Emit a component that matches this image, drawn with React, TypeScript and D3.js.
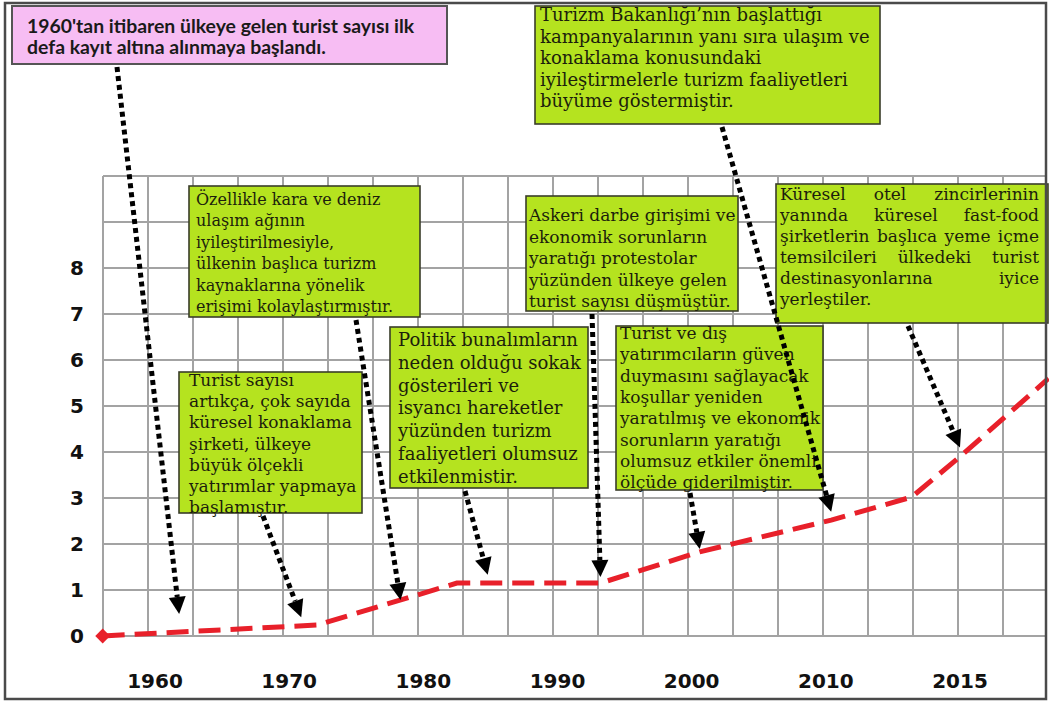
import * as d3 from 'd3'

// x axis labels (years) and y axis labels (million tourists)
const yearTicks = [1960, 1970, 1980, 1990, 2000, 2010, 2015]
const valueTicks = [0, 1, 2, 3, 4, 5, 6, 7, 8]

// the red dashed curve
const lineYears = [1956.1, 1972.1, 1982.5, 1993.2, 2000.6, 2010.2, 2013.2, 2015, 2018.3]
const lineValues = [0, 0.24, 1.15, 1.15, 1.83, 2.52, 3.02, 3.9, 5.6]

// annotation texts, one array of lines per box
const noteLines: string[][] = [
  ["1960'tan itibaren ülkeye gelen turist sayısı ilk", 'defa kayıt altına alınmaya başlandı.'],
  [
    'Turizm Bakanlığı’nın başlattığı',
    'kampanyalarının yanı sıra ulaşım ve',
    'konaklama konusundaki',
    'iyileştirmelerle turizm faaliyetleri',
    'büyüme göstermiştir.',
  ],
  [
    'Özellikle kara ve deniz',
    'ulaşım ağının',
    'iyileştirilmesiyle,',
    'ülkenin başlıca turizm',
    'kaynaklarına yönelik',
    'erişimi kolaylaştırmıştır.',
  ],
  [
    'Askeri darbe girişimi ve',
    'ekonomik sorunların',
    'yaratığı protestolar',
    'yüzünden ülkeye gelen',
    'turist sayısı düşmüştür.',
  ],
  [
    'Küresel otel zincirlerinin',
    'yanında küresel fast-food',
    'şirketlerin başlıca yeme içme',
    'temsilcileri ülkedeki turist',
    'destinasyonlarına iyice',
    'yerleştiler.',
  ],
  [
    'Politik bunalımların',
    'neden olduğu sokak',
    'gösterileri ve',
    'isyancı hareketler',
    'yüzünden turizm',
    'faaliyetleri olumsuz',
    'etkilenmistir.',
  ],
  [
    'Turist sayısı',
    'artıkça, çok sayıda',
    'küresel konaklama',
    'şirketi, ülkeye',
    'büyük ölçekli',
    'yatırımlar yapmaya',
    'başlamıştır.',
  ],
  [
    'Turist ve dış',
    'yatırımcıların güven',
    'duymasını sağlayacak',
    'koşullar yeniden',
    'yaratılmış ve ekonomik',
    'sorunların yaratığı',
    'olumsuz etkiler önemli',
    'ölçüde giderilmiştir.',
  ],
]

// where each note's arrow points, in data units
const arrowTipYears = [1961.8, 2010.2, 1978.3, 1993.2, 2015.0, 1984.8, 1970.9, 2000.6]
const arrowTipValues = [0.48, 2.7, 0.78, 1.28, 4.1, 1.33, 0.41, 1.89]

const W = 1049
const H = 702
const GREEN = '#b5e31f'
const PINK = '#f7bdf3'
const SERIF = 'DejaVu Serif, serif'

interface BoxLayout {
  x: number
  y: number
  w: number
  h: number
  fs: number
  tx: number
  base: number
  lh: number
  arrowX: number
  pink?: boolean
  justify?: number
}

// box placement (layout only)
const boxes: BoxLayout[] = [
  { x: 12, y: 6, w: 435, h: 58, fs: 19.4, tx: 15, base: 27, lh: 21, arrowX: 105, pink: true },
  { x: 535, y: 6, w: 345, h: 118, fs: 18, tx: 5, base: 15, lh: 21.5, arrowX: 187 },
  { x: 189, y: 186, w: 231, h: 131, fs: 16, tx: 7, base: 19, lh: 21.4, arrowX: 167 },
  { x: 526, y: 196, w: 212, h: 115, fs: 17, tx: 3, base: 25, lh: 21.5, arrowX: 66 },
  { x: 776, y: 184, w: 272, h: 139, fs: 17, tx: 4, base: 16, lh: 21, arrowX: 132, justify: 259 },
  { x: 390, y: 327, w: 198, h: 161, fs: 18, tx: 8, base: 19, lh: 22.8, arrowX: 75 },
  { x: 179, y: 372, w: 183, h: 141, fs: 17, tx: 10, base: 14, lh: 21.2, arrowX: 84 },
  { x: 616, y: 326, w: 207, h: 164, fs: 17, tx: 4, base: 13, lh: 21.3, arrowX: 74 },
]

let measureCtx: CanvasRenderingContext2D | null = null
const measure = (text: string, font: string) => {
  if (!measureCtx) measureCtx = document.createElement('canvas').getContext('2d')
  if (!measureCtx) return text.length * 9
  measureCtx.font = font
  return measureCtx.measureText(text).width
}

function NoteText({ lines, b }: { lines: string[]; b: BoxLayout }) {
  const font = `${b.fs}px ${SERIF}`
  return (
    <g style={{ fontFamily: SERIF, fontSize: b.fs }} fill="#1c1e0c">
      {lines.map((line, i) => {
        const y = b.y + b.base + i * b.lh
        if (b.justify && i < lines.length - 1) {
          // justified line: spread the words over the full width
          const words = line.split(' ')
          const widths = words.map((w) => measure(w, font))
          const gap = (b.justify - d3.sum(widths)) / Math.max(1, words.length - 1)
          let cx = b.x + b.tx
          return (
            <g key={i}>
              {words.map((w, j) => {
                const el = (
                  <text key={j} x={cx} y={y}>
                    {w}
                  </text>
                )
                cx += widths[j] + gap
                return el
              })}
            </g>
          )
        }
        return (
          <text key={i} x={b.x + b.tx} y={y}>
            {line}
          </text>
        )
      })}
    </g>
  )
}

export default function App() {
  const x0 = 103
  const yScale = d3.scaleLinear().domain([0, 10]).range([636, 176])
  const tickPos = d3.scalePoint<number>().domain(yearTicks).range([155, 960])
  const xScale = d3
    .scaleLinear()
    .domain(yearTicks)
    .range(yearTicks.map((t) => tickPos(t) as number))
  const gridX = d3.scaleLinear().domain([0, 21]).range([x0, 1048])

  const line = d3
    .line<number>()
    .x((_, i) => xScale(lineYears[i]))
    .y((d) => yScale(d))

  const diamond = d3.symbol().type(d3.symbolSquare).size(110)()

  return (
    <>
      <style>{'body{margin:0}'}</style>
      <svg width={W} height={H} style={{ display: 'block', background: '#fff' }}>
        {/* grid */}
        <g stroke="#a3a3a3" strokeWidth={2}>
          {d3.range(0, 11).map((v) => (
            <line key={'h' + v} x1={x0} x2={1046} y1={yScale(v)} y2={yScale(v)} />
          ))}
          {d3.range(0, 21).map((c) => (
            <line key={'v' + c} x1={gridX(c)} x2={gridX(c)} y1={yScale(10)} y2={yScale(0) + 1} />
          ))}
        </g>

        {/* axis labels */}
        <g style={{ fontFamily: 'DejaVu Sans, sans-serif', fontWeight: 'bold', fontSize: 20 }} fill="#111">
          {valueTicks.map((v) => (
            <text key={v} x={77} y={yScale(v)} textAnchor="middle" dominantBaseline="central">
              {v}
            </text>
          ))}
          {yearTicks.map((t) => (
            <text key={t} x={tickPos(t)} y={681} textAnchor="middle" dominantBaseline="central">
              {t}
            </text>
          ))}
        </g>

        {/* tourist curve */}
        <path
          d={line(lineValues) || ''}
          fill="none"
          stroke="#e8202a"
          strokeWidth={5}
          strokeDasharray="22 10"
        />
        <path
          d={diamond || ''}
          transform={`translate(${xScale(lineYears[0])},${yScale(lineValues[0])}) rotate(45)`}
          fill="#e8202a"
        />

        {/* notes */}
        {boxes.map((b, i) => (
          <g key={i}>
            <rect
              x={b.x}
              y={b.y}
              width={b.w}
              height={b.h}
              fill={b.pink ? PINK : GREEN}
              stroke={b.pink ? '#555' : '#3a3d2a'}
              strokeWidth={b.pink ? 2 : 1.6}
            />
            {b.pink ? (
              <g style={{ fontFamily: 'Lato, sans-serif', fontWeight: 'bold', fontSize: b.fs }} fill="#1a1a1a">
                {noteLines[i].map((l, k) => (
                  <text key={k} x={b.x + b.tx} y={b.y + b.base + k * b.lh}>
                    {l}
                  </text>
                ))}
              </g>
            ) : (
              <NoteText lines={noteLines[i]} b={b} />
            )}
          </g>
        ))}

        {/* dotted arrows */}
        {boxes.map((b, i) => {
          const sx = b.x + b.arrowX
          const sy = b.y + b.h + 3
          const tx = xScale(arrowTipYears[i])
          const ty = yScale(arrowTipValues[i])
          const len = Math.hypot(tx - sx, ty - sy)
          const ux = (tx - sx) / len
          const uy = (ty - sy) / len
          const bx = tx - ux * 17
          const by = ty - uy * 17
          const nx = -uy * 8.5
          const ny = ux * 8.5
          return (
            <g key={'a' + i}>
              <line
                x1={sx}
                y1={sy}
                x2={bx}
                y2={by}
                stroke="#000"
                strokeWidth={5}
                strokeDasharray="5 4"
              />
              <path
                d={`M${tx},${ty}L${bx + nx},${by + ny}L${bx - nx},${by - ny}Z`}
                fill="#000"
              />
            </g>
          )
        })}

        {/* frame */}
        <rect x={5} y={3} width={1041} height={696} fill="none" stroke="#4a4a4a" strokeWidth={2.5} />
      </svg>
    </>
  )
}
